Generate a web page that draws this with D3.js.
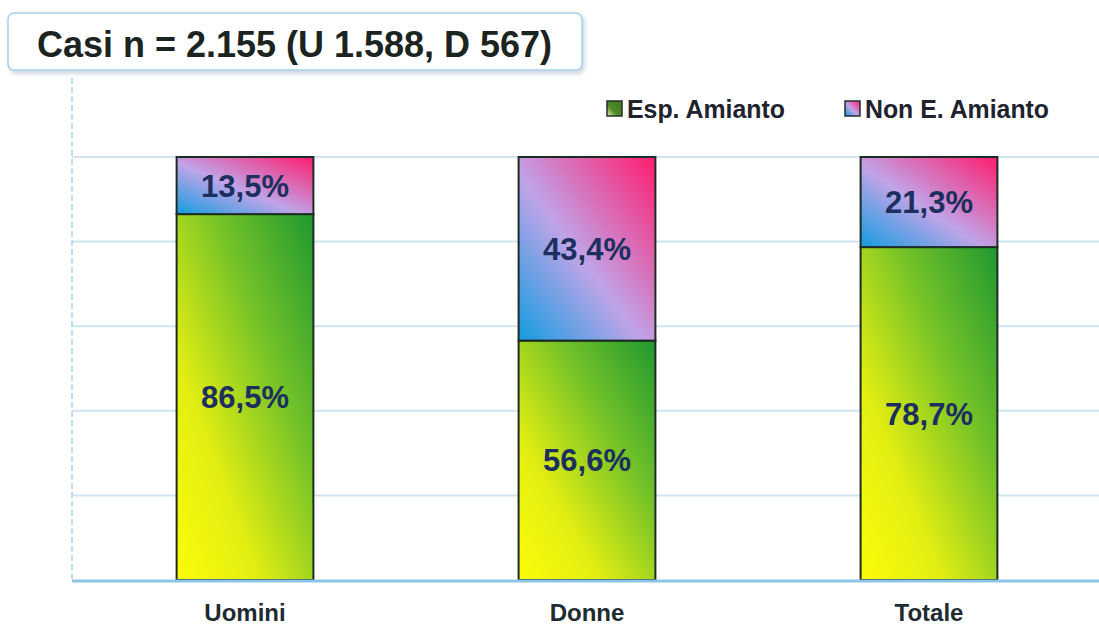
<!DOCTYPE html>
<html><head><meta charset="utf-8">
<script src="https://cdn.jsdelivr.net/npm/d3@7"></script>
<style>body{margin:0;background:#fff;}svg{display:block;font-family:"Liberation Sans",Arial,sans-serif;}</style>
</head><body>
<svg id="chart" width="1099" height="629"></svg>
<script>
const categories = ["Uomini", "Donne", "Totale"];
const espAmianto = [86.5, 56.6, 78.7];
const nonEspAmianto = [13.5, 43.4, 21.3];
const seriesNames = ["Esp. Amianto", "Non E. Amianto"];
const yTicks = [0, 20, 40, 60, 80, 100];
const titleText = "Casi n = 2.155 (U 1.588, D 567)";

const fmt = v => v.toFixed(1).replace(".", ",") + "%";
const svg = d3.select("#chart");
const defs = svg.append("defs");

const g1 = defs.append("linearGradient").attr("id","gGreen").attr("x1",0).attr("y1",1).attr("x2",1).attr("y2",0);
g1.append("stop").attr("offset","0").attr("stop-color","#fcfc08");
g1.append("stop").attr("offset","0.3").attr("stop-color","#e2ee12");
g1.append("stop").attr("offset","0.65").attr("stop-color","#74c228");
g1.append("stop").attr("offset","1").attr("stop-color","#1f9830");

const g2 = defs.append("linearGradient").attr("id","gPink").attr("x1",0).attr("y1",1).attr("x2",1).attr("y2",0);
g2.append("stop").attr("offset","0").attr("stop-color","#129ce0");
g2.append("stop").attr("offset","0.45").attr("stop-color","#c0a4e8");
g2.append("stop").attr("offset","1").attr("stop-color","#ff1c6e");

const sh = defs.append("filter").attr("id","shadow").attr("x","-5%").attr("y","-20%").attr("width","115%").attr("height","160%");
sh.append("feDropShadow").attr("dx",2).attr("dy",3).attr("stdDeviation",2).attr("flood-color","#9ab").attr("flood-opacity",0.5);

const x = d3.scaleBand().domain(categories).range([74, 1100]).paddingInner(0.6).paddingOuter(0.3);
const y = d3.scaleLinear().domain([0, 100]).range([580, 157]);

// gridlines
svg.append("g").selectAll("line").data(yTicks.filter(t => t > 0)).join("line")
  .attr("x1", 72).attr("x2", 1099).attr("y1", d => y(d)).attr("y2", d => y(d))
  .attr("stroke", "#cde6f2").attr("stroke-width", 2);

// left axis dashed
svg.append("line").attr("x1",72).attr("x2",72).attr("y1",78).attr("y2",580)
  .attr("stroke","#a9d4ec").attr("stroke-width",1.5).attr("stroke-dasharray","6,3");

// bars
const bars = svg.append("g").selectAll("g").data(categories).join("g");
bars.append("rect")
  .attr("x", d => x(d)).attr("width", x.bandwidth())
  .attr("y", (d,i) => y(espAmianto[i])).attr("height", (d,i) => y(0) - y(espAmianto[i]))
  .attr("fill", "url(#gGreen)").attr("stroke", "#1d2b24").attr("stroke-width", 2);
bars.append("rect")
  .attr("x", d => x(d)).attr("width", x.bandwidth())
  .attr("y", (d,i) => y(espAmianto[i] + nonEspAmianto[i])).attr("height", (d,i) => y(espAmianto[i]) - y(espAmianto[i] + nonEspAmianto[i]))
  .attr("fill", "url(#gPink)").attr("stroke", "#1d2b24").attr("stroke-width", 2);

// value labels
bars.append("text")
  .attr("x", d => x(d) + x.bandwidth()/2)
  .attr("y", (d,i) => y(espAmianto[i]/2) + 11)
  .attr("text-anchor","middle").attr("font-size",31).attr("font-weight","bold").attr("fill","#1c2f5e")
  .text((d,i) => fmt(espAmianto[i]));
bars.append("text")
  .attr("x", d => x(d) + x.bandwidth()/2)
  .attr("y", (d,i) => y(espAmianto[i] + nonEspAmianto[i]/2) + 11)
  .attr("text-anchor","middle").attr("font-size",31).attr("font-weight","bold").attr("fill","#1c2f5e")
  .text((d,i) => fmt(nonEspAmianto[i]));

// bottom axis
svg.append("line").attr("x1",72).attr("x2",1099).attr("y1",581).attr("y2",581)
  .attr("stroke","#8cc6e6").attr("stroke-width",3);
const xAxis = svg.append("g").attr("transform","translate(0,581)")
  .call(d3.axisBottom(x).tickSize(0).tickPadding(23));
xAxis.select(".domain").remove();
xAxis.selectAll("text").attr("font-size",24).attr("font-weight","bold").attr("fill","#1e2b30")
  .attr("font-family","'Liberation Sans',Arial,sans-serif");

// legend
const leg = svg.append("g");
const legX = [607, 845];
const legW = [158, 184];
const legFills = ["url(#gLegG)", "url(#gPink)"];
const g3 = defs.append("linearGradient").attr("id","gLegG").attr("x1",0).attr("y1",1).attr("x2",1).attr("y2",0);
g3.append("stop").attr("offset","0").attr("stop-color","#e8f0a0");
g3.append("stop").attr("offset","0.4").attr("stop-color","#4e8a2a");
g3.append("stop").attr("offset","1").attr("stop-color","#3f7a22");
seriesNames.forEach((s, i) => {
  leg.append("rect").attr("x", legX[i]).attr("y", 101).attr("width", 15).attr("height", 15)
    .attr("fill", legFills[i]).attr("stroke", "#22302a").attr("stroke-width", 1.5);
  leg.append("text").attr("x", legX[i] + 20).attr("y", 118).attr("font-size", 26).attr("font-weight", "bold")
    .attr("fill", "#20222e").attr("textLength", legW[i]).attr("lengthAdjust","spacingAndGlyphs").text(s);
});

// title box
svg.append("rect").attr("x",8).attr("y",13).attr("width",574).attr("height",57).attr("rx",6)
  .attr("fill","#fff").attr("stroke","#a8d2ea").attr("stroke-width",1.5).attr("filter","url(#shadow)");
svg.append("text").attr("x",37).attr("y",57)
  .attr("font-size",37).attr("font-weight","bold").attr("fill","#1b2420")
  .attr("textLength",515).attr("lengthAdjust","spacingAndGlyphs").text(titleText);
</script>
</body></html>
